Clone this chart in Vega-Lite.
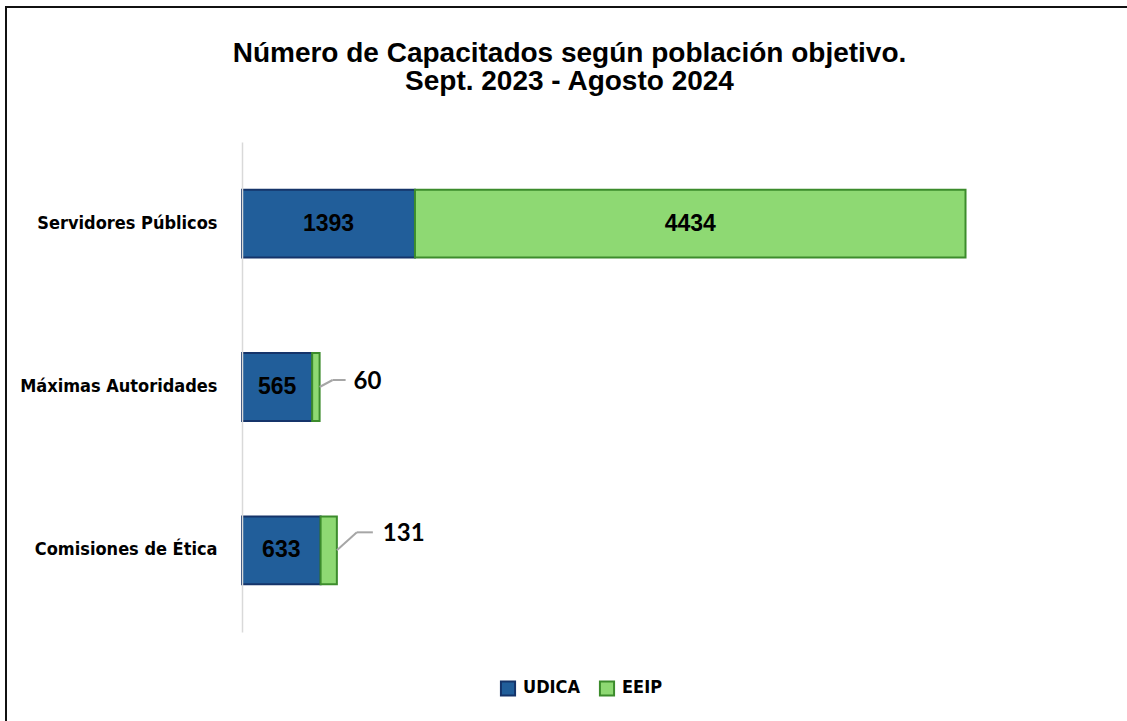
{
  "$schema": "https://vega.github.io/schema/vega-lite/v6.json",
  "width": 1121,
  "height": 714,
  "autosize": "none",
  "padding": {"left": 6, "top": 7, "right": 0, "bottom": 0},
  "background": "white",
  "config": {
    "view": {"stroke": "#111111", "strokeWidth": 2, "strokeDash": [1121, 1835, 716]},
    "font": "Liberation Sans"
  },
  "title": {
    "text": ["Número de Capacitados según población objetivo.", "Sept. 2023 - Agosto 2024"],
    "font": "Liberation Sans",
    "fontSize": 28,
    "fontWeight": "bold",
    "color": "black",
    "anchor": "middle",
    "frame": "group",
    "offset": -89,
    "dx": 3,
    "lineHeight": 28
  },
  "data": {
    "values": [
      {"cat": "Servidores Públicos", "serie": "UDICA", "orden": 1, "value": 1393},
      {"cat": "Servidores Públicos", "serie": "EEIP", "orden": 2, "value": 4434},
      {"cat": "Máximas Autoridades", "serie": "UDICA", "orden": 1, "value": 565},
      {"cat": "Máximas Autoridades", "serie": "EEIP", "orden": 2, "value": 60},
      {"cat": "Comisiones de Ética", "serie": "UDICA", "orden": 1, "value": 633},
      {"cat": "Comisiones de Ética", "serie": "EEIP", "orden": 2, "value": 131}
    ]
  },
  "transform": [
    {"stack": "value", "groupby": ["cat"], "sort": [{"field": "orden"}], "as": ["v0", "v1"]}
  ],
  "encoding": {
    "y": {
      "field": "cat",
      "type": "nominal",
      "sort": ["Servidores Públicos", "Máximas Autoridades", "Comisiones de Ética"],
      "scale": {"range": [135, 625], "paddingInner": 0.585, "paddingOuter": 0.2925},
      "axis": {
        "title": null,
        "orient": "left",
        "offset": -236,
        "domainColor": "#D9D9D9",
        "domainWidth": 1.5,
        "ticks": false,
        "labelPadding": 25,
        "labelLimit": 500,
        "labelFont": "DejaVu Sans Condensed",
        "labelFontSize": 18,
        "labelFontWeight": "bold",
        "labelColor": "black"
      }
    }
  },
  "layer": [
    {
      "mark": {"type": "rect", "strokeWidth": 2},
      "encoding": {
        "x": {
          "field": "v0",
          "type": "quantitative",
          "scale": {"domain": [0, 6000], "range": [236, 981]},
          "axis": null
        },
        "x2": {"field": "v1"},
        "fill": {
          "field": "serie",
          "type": "nominal",
          "scale": {"domain": ["UDICA", "EEIP"], "range": ["#215E9A", "#8ED973"]},
          "legend": {
            "title": null,
            "orient": "none",
            "legendX": 493,
            "legendY": 672,
            "direction": "horizontal",
            "symbolType": "square",
            "symbolSize": 200,
            "symbolStrokeWidth": 2,
            "labelFont": "DejaVu Sans Condensed",
            "labelFontSize": 18,
            "labelFontWeight": "bold",
            "labelColor": "black",
            "labelOffset": 6,
            "columnPadding": 14
          }
        },
        "stroke": {
          "field": "serie",
          "type": "nominal",
          "scale": {"domain": ["UDICA", "EEIP"], "range": ["#15346A", "#3C8C2C"]},
          "legend": null
        }
      }
    },
    {
      "transform": [{"filter": "datum.serie == 'UDICA' || datum.value > 1000"}],
      "mark": {"type": "text", "font": "Liberation Sans", "fontSize": 23, "fontWeight": "bold", "color": "black", "baseline": "middle", "align": "center"},
      "encoding": {
        "x": {"field": "value", "type": "quantitative", "stack": "zero", "bandPosition": 0.5},
        "detail": {"field": "serie"},
        "order": {"field": "orden"},
        "text": {"field": "value", "type": "quantitative"}
      }
    },
    {
      "transform": [{"filter": "datum.serie == 'EEIP' && datum.cat == 'Máximas Autoridades'"}],
      "mark": {"type": "text", "font": "Lato", "fontSize": 24, "fontWeight": "bold", "color": "black", "align": "left", "baseline": "middle", "dx": 34, "dy": -5},
      "encoding": {
        "x": {"field": "v1", "type": "quantitative"},
        "text": {"field": "value", "type": "quantitative"}
      }
    },
    {
      "transform": [{"filter": "datum.serie == 'EEIP' && datum.cat == 'Comisiones de Ética'"}],
      "mark": {"type": "text", "font": "Lato", "fontSize": 24, "fontWeight": "bold", "color": "black", "align": "left", "baseline": "middle", "dx": 46, "dy": -16},
      "encoding": {
        "x": {"field": "v1", "type": "quantitative"},
        "text": {"field": "value", "type": "quantitative"}
      }
    },
    {
      "transform": [{"filter": "datum.serie == 'EEIP' && datum.cat == 'Máximas Autoridades'"}],
      "mark": {"type": "rule", "color": "#A6A6A6", "strokeWidth": 2, "x2Offset": 13, "y2Offset": -7},
      "encoding": {
        "x": {"field": "v1", "type": "quantitative"},
        "x2": {"field": "v1"},
        "y2": {"field": "cat"}
      }
    },
    {
      "transform": [{"filter": "datum.serie == 'EEIP' && datum.cat == 'Máximas Autoridades'"}],
      "mark": {"type": "rule", "color": "#A6A6A6", "strokeWidth": 2, "xOffset": 13, "x2Offset": 26, "yOffset": -7, "y2Offset": -7},
      "encoding": {
        "x": {"field": "v1", "type": "quantitative"},
        "x2": {"field": "v1"},
        "y2": {"field": "cat"}
      }
    },
    {
      "transform": [{"filter": "datum.serie == 'EEIP' && datum.cat == 'Comisiones de Ética'"}],
      "mark": {"type": "rule", "color": "#A6A6A6", "strokeWidth": 2, "x2Offset": 20, "y2Offset": -18},
      "encoding": {
        "x": {"field": "v1", "type": "quantitative"},
        "x2": {"field": "v1"},
        "y2": {"field": "cat"}
      }
    },
    {
      "transform": [{"filter": "datum.serie == 'EEIP' && datum.cat == 'Comisiones de Ética'"}],
      "mark": {"type": "rule", "color": "#A6A6A6", "strokeWidth": 2, "xOffset": 20, "x2Offset": 36, "yOffset": -18, "y2Offset": -18},
      "encoding": {
        "x": {"field": "v1", "type": "quantitative"},
        "x2": {"field": "v1"},
        "y2": {"field": "cat"}
      }
    }
  ]
}
